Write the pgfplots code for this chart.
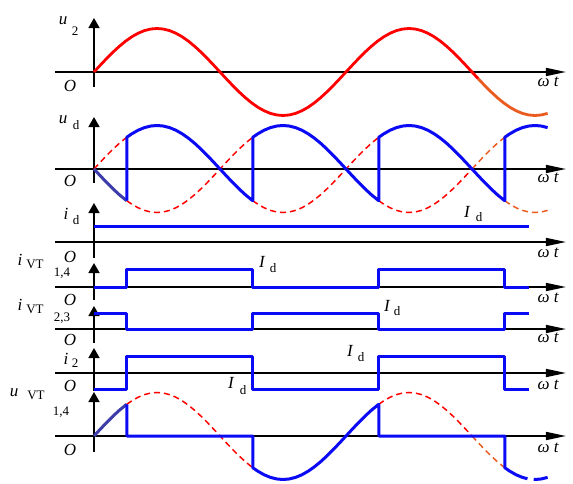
\documentclass[border=0pt]{standalone}
\usepackage{pgfplots}
\pgfplotsset{compat=1.18}
\usetikzlibrary{arrows.meta}
\usepackage{fontspec}
\setmainfont{Liberation Serif}
\definecolor{wblue}{RGB}{10,10,245}
\definecolor{dblue}{RGB}{60,60,170}
\definecolor{wred}{RGB}{255,0,0}
\definecolor{worange}{RGB}{235,90,30}
\newcommand{\bigf}{\fontsize{17}{17}\selectfont}
\newcommand{\smlf}{\fontsize{13}{13}\selectfont}
\pgfplotsset{panel/.style={x=126pt, xmin=-0.3095, xmax=3.746,
  axis lines=middle, xtick=\empty, ytick=\empty, enlargelimits=false, clip=false,
  axis line style={line width=1.6pt, black},
  x axis line style={-{Triangle[length=20pt,width=8pt]}},
  y axis line style={-{Triangle[length=10pt,width=11pt]}},
  anchor=south west, unbounded coords=jump},
  wave/.style={line width=3pt, wblue, line join=round},
  dash/.style={line width=1.5pt, wred, dash pattern=on 6pt off 4pt}}
\begin{document}
\begin{tikzpicture}
\path[use as bounding box] (0pt,0pt) rectangle (573pt,-483pt);
% ---------- u2
\begin{axis}[panel, y=43.5pt, ymin=-0.345, ymax=1.241, at={(55pt,-87pt)}]
\addplot[line width=2.8pt, wred] coordinates {(0,0) (0.05,0.1564) (0.1,0.309) (0.15,0.454) (0.2,0.5878) (0.25,0.7071) (0.3,0.809) (0.35,0.891) (0.4,0.9511) (0.45,0.9877) (0.5,1) (0.55,0.9877) (0.6,0.9511) (0.65,0.891) (0.7,0.809) (0.75,0.7071) (0.8,0.5878) (0.85,0.454) (0.9,0.309) (0.95,0.1564) (1,0)
(1.05,-0.1564) (1.1,-0.309) (1.15,-0.454) (1.2,-0.5878) (1.25,-0.7071) (1.3,-0.809) (1.35,-0.891) (1.4,-0.9511) (1.45,-0.9877) (1.5,-1) (1.55,-0.9877) (1.6,-0.9511) (1.65,-0.891) (1.7,-0.809) (1.75,-0.7071) (1.8,-0.5878) (1.85,-0.454) (1.9,-0.309) (1.95,-0.1564) (2,0)
(2.05,0.1564) (2.1,0.309) (2.15,0.454) (2.2,0.5878) (2.25,0.7071) (2.3,0.809) (2.35,0.891) (2.4,0.9511) (2.45,0.9877) (2.5,1) (2.55,0.9877) (2.6,0.9511) (2.65,0.891) (2.7,0.809) (2.75,0.7071) (2.8,0.5878) (2.85,0.454) (2.9,0.309) (2.95,0.1564) (3,0) (3.05,-0.1564)};
\addplot[line width=2.8pt, worange] coordinates {(3.05,-0.1564) (3.1,-0.309) (3.15,-0.454) (3.2,-0.5878) (3.25,-0.7071) (3.3,-0.809) (3.35,-0.891) (3.4,-0.9511) (3.45,-0.9877) (3.5,-1) (3.55,-0.9877) (3.6,-0.9511)};
\end{axis}
% ---------- ud
\begin{axis}[panel, y=43.5pt, ymin=-0.322, ymax=1.195, at={(55pt,-183pt)}]
\addplot[dash] coordinates {(0,0) (0.05,0.1564) (0.1,0.309) (0.15,0.454) (0.2,0.5878) (0.25,0.7071) (0.26,0.729) (0.26,nan)
(0.26,-0.729) (0.3,-0.809) (0.35,-0.891) (0.4,-0.9511) (0.45,-0.9877) (0.5,-1) (0.55,-0.9877) (0.6,-0.9511) (0.65,-0.891) (0.7,-0.809) (0.75,-0.7071) (0.8,-0.5878) (0.85,-0.454) (0.9,-0.309) (0.95,-0.1564) (1,0) (1.05,0.1564) (1.1,0.309) (1.15,0.454) (1.2,0.5878) (1.25,0.7071) (1.26,0.729) (1.26,nan)
(1.26,-0.729) (1.3,-0.809) (1.35,-0.891) (1.4,-0.9511) (1.45,-0.9877) (1.5,-1) (1.55,-0.9877) (1.6,-0.9511) (1.65,-0.891) (1.7,-0.809) (1.75,-0.7071) (1.8,-0.5878) (1.85,-0.454) (1.9,-0.309) (1.95,-0.1564) (2,0) (2.05,0.1564) (2.1,0.309) (2.15,0.454) (2.2,0.5878) (2.25,0.7071) (2.26,0.729) (2.26,nan)
(2.26,-0.729) (2.3,-0.809) (2.35,-0.891) (2.4,-0.9511) (2.45,-0.9877) (2.5,-1) (2.55,-0.9877) (2.6,-0.9511) (2.65,-0.891) (2.7,-0.809) (2.75,-0.7071) (2.8,-0.5878) (2.85,-0.454) (2.9,-0.309) (2.95,-0.1564) (3,0)};
\addplot[dash, worange] coordinates {(3,0) (3.05,0.1564) (3.1,0.309) (3.15,0.454) (3.2,0.5878) (3.25,0.7071) (3.26,0.729) (3.26,nan)
(3.26,-0.729) (3.3,-0.809) (3.35,-0.891) (3.4,-0.9511) (3.45,-0.9877) (3.5,-1) (3.55,-0.9877) (3.6,-0.9511)};
\addplot[wave, dblue] coordinates {(0,0) (0.05,-0.1564) (0.1,-0.309) (0.15,-0.454) (0.2,-0.5878) (0.25,-0.7071) (0.26,-0.729)};
\addplot[wave] coordinates {(0.26,-0.729) (0.26,0.729) (0.3,0.809) (0.35,0.891) (0.4,0.9511) (0.45,0.9877) (0.5,1) (0.55,0.9877) (0.6,0.9511) (0.65,0.891) (0.7,0.809) (0.75,0.7071) (0.8,0.5878) (0.85,0.454) (0.9,0.309) (0.95,0.1564) (1,0) (1.05,-0.1564) (1.1,-0.309) (1.15,-0.454) (1.2,-0.5878) (1.25,-0.7071) (1.26,-0.729)
(1.26,0.729) (1.3,0.809) (1.35,0.891) (1.4,0.9511) (1.45,0.9877) (1.5,1) (1.55,0.9877) (1.6,0.9511) (1.65,0.891) (1.7,0.809) (1.75,0.7071) (1.8,0.5878) (1.85,0.454) (1.9,0.309) (1.95,0.1564) (2,0) (2.05,-0.1564) (2.1,-0.309) (2.15,-0.454) (2.2,-0.5878) (2.25,-0.7071) (2.26,-0.729)
(2.26,0.729) (2.3,0.809) (2.35,0.891) (2.4,0.9511) (2.45,0.9877) (2.5,1) (2.55,0.9877) (2.6,0.9511) (2.65,0.891) (2.7,0.809) (2.75,0.7071) (2.8,0.5878) (2.85,0.454) (2.9,0.309) (2.95,0.1564) (3,0) (3.05,-0.1564) (3.1,-0.309) (3.15,-0.454) (3.2,-0.5878) (3.25,-0.7071) (3.26,-0.729)
(3.26,0.729) (3.3,0.809) (3.35,0.891) (3.4,0.9511) (3.45,0.9877) (3.5,1) (3.55,0.9877) (3.6,0.9511)};
\end{axis}
% ---------- id
\begin{axis}[panel, y=16pt, ymin=-1, ymax=2.4375, at={(55pt,-258pt)}]
\addplot[wave, line cap=butt] coordinates {(0,1) (3.45,1)};
\end{axis}
% ---------- iVT1,4
\begin{axis}[panel, y=18pt, ymin=-0.722, ymax=1.333, at={(55pt,-300pt)}]
\addplot[wave] coordinates {(0,0) (0.26,0) (0.26,1) (1.26,1) (1.26,0) (2.26,0) (2.26,1) (3.26,1) (3.26,0) (3.45,0)};
\end{axis}
% ---------- iVT2,3
\begin{axis}[panel, y=16pt, ymin=-0.875, ymax=1.4375, at={(55pt,-343pt)}]
\addplot[wave] coordinates {(0,1) (0.26,1) (0.26,0) (1.26,0) (1.26,1) (2.26,1) (2.26,0) (3.26,0) (3.26,1) (3.45,1)};
\end{axis}
% ---------- i2
\begin{axis}[panel, y=16.5pt, ymin=-1.091, ymax=1.515, at={(55pt,-391pt)}]
\addplot[wave] coordinates {(0,-1) (0.26,-1) (0.26,1) (1.26,1) (1.26,-1) (2.26,-1) (2.26,1) (3.26,1) (3.26,-1) (3.45,-1)};
\end{axis}
% ---------- uVT1,4
\begin{axis}[panel, y=43.5pt, ymin=-0.368, ymax=1.0115, at={(55pt,-452pt)}]
\addplot[dash] coordinates {(0.26,0.729) (0.3,0.809) (0.35,0.891) (0.4,0.9511) (0.45,0.9877) (0.5,1) (0.55,0.9877) (0.6,0.9511) (0.65,0.891) (0.7,0.809) (0.75,0.7071) (0.8,0.5878) (0.85,0.454) (0.9,0.309) (0.95,0.1564) (1,0) (1.05,-0.1564) (1.1,-0.309) (1.15,-0.454) (1.2,-0.5878) (1.25,-0.7071) (1.26,-0.729) (1.26,nan)
(2.26,0.729) (2.3,0.809) (2.35,0.891) (2.4,0.9511) (2.45,0.9877) (2.5,1) (2.55,0.9877) (2.6,0.9511) (2.65,0.891) (2.7,0.809) (2.75,0.7071) (2.8,0.5878) (2.85,0.454) (2.9,0.309) (2.95,0.1564) (3,0)};
\addplot[dash, worange] coordinates {(3,0) (3.05,-0.1564) (3.1,-0.309) (3.15,-0.454) (3.2,-0.5878) (3.25,-0.7071) (3.26,-0.729)};
\addplot[wave, dblue] coordinates {(0,0) (0.05,0.1564) (0.1,0.309) (0.15,0.454) (0.2,0.5878) (0.25,0.7071) (0.26,0.729)};
\addplot[wave] coordinates {(0.26,0.729) (0.26,0) (1.26,0) (1.26,-0.729) (1.3,-0.809) (1.35,-0.891) (1.4,-0.9511) (1.45,-0.9877) (1.5,-1) (1.55,-0.9877) (1.6,-0.9511) (1.65,-0.891) (1.7,-0.809) (1.75,-0.7071) (1.8,-0.5878) (1.85,-0.454) (1.9,-0.309) (1.95,-0.1564) (2,0) (2.05,0.1564) (2.1,0.309) (2.15,0.454) (2.2,0.5878) (2.25,0.7071) (2.26,0.729) (2.26,0) (3.26,0) (3.26,-0.729) (3.3,-0.809) (3.35,-0.891) (3.4,-0.9511) (3.44,-0.9823)};
\addplot[wave, line cap=butt] coordinates {(3.49,-0.9995) (3.5,-1) (3.55,-0.9877) (3.6,-0.9511)};
\end{axis}
% ---------- labels
\begin{scope}[every node/.style={inner sep=0pt}]
% u2
\node[font=\bigf\itshape] at (63pt,-21pt) {u};
\node[font=\smlf] at (75pt,-31pt) {2};
\node[font=\bigf\itshape] at (70pt,-86pt) {O};
\node[font=\bigf\itshape] at (548pt,-82pt) {ω\ t};
% ud
\node[font=\bigf\itshape] at (63pt,-120pt) {u};
\node[font=\smlf] at (76pt,-125pt) {d};
\node[font=\bigf\itshape] at (70pt,-181pt) {O};
\node[font=\bigf\itshape] at (548pt,-178pt) {ω\ t};
% id
\node[font=\bigf\itshape] at (66pt,-214pt) {i};
\node[font=\smlf] at (76pt,-220pt) {d};
\node[font=\bigf\itshape] at (70pt,-257pt) {O};
\node[font=\bigf\itshape] at (548pt,-253pt) {ω\ t};
\node[font=\bigf\itshape] at (467pt,-212pt) {I};
\node[font=\smlf] at (479pt,-217pt) {d};
% iVT14
\node[font=\bigf\itshape] at (20pt,-260pt) {i};
\node[font=\smlf] at (35pt,-264pt) {VT};
\node[font=\smlf] at (62pt,-273pt) {1,4};
\node[font=\bigf\itshape] at (70pt,-300pt) {O};
\node[font=\bigf\itshape] at (548pt,-298pt) {ω\ t};
\node[font=\bigf\itshape] at (262pt,-262pt) {I};
\node[font=\smlf] at (273pt,-268pt) {d};
% iVT23
\node[font=\bigf\itshape] at (20pt,-305pt) {i};
\node[font=\smlf] at (35pt,-309pt) {VT};
\node[font=\smlf] at (62pt,-318pt) {2,3};
\node[font=\bigf\itshape] at (70pt,-340pt) {O};
\node[font=\bigf\itshape] at (548pt,-338pt) {ω\ t};
\node[font=\bigf\itshape] at (387pt,-306pt) {I};
\node[font=\smlf] at (397pt,-311pt) {d};
% i2
\node[font=\bigf\itshape] at (66pt,-359pt) {i};
\node[font=\smlf] at (75pt,-363pt) {2};
\node[font=\bigf\itshape] at (70pt,-386pt) {O};
\node[font=\bigf\itshape] at (548pt,-385pt) {ω\ t};
\node[font=\bigf\itshape] at (350pt,-351pt) {I};
\node[font=\smlf] at (361pt,-357pt) {d};
\node[font=\bigf\itshape] at (231pt,-383pt) {I};
\node[font=\smlf] at (243pt,-390pt) {d};
% uVT14
\node[font=\bigf\itshape] at (14pt,-393pt) {u};
\node[font=\smlf] at (36pt,-395pt) {VT};
\node[font=\smlf] at (61pt,-412pt) {1,4};
\node[font=\bigf\itshape] at (70pt,-450pt) {O};
\node[font=\bigf\itshape] at (548pt,-448pt) {ω\ t};
\end{scope}
\end{tikzpicture}
\end{document}
